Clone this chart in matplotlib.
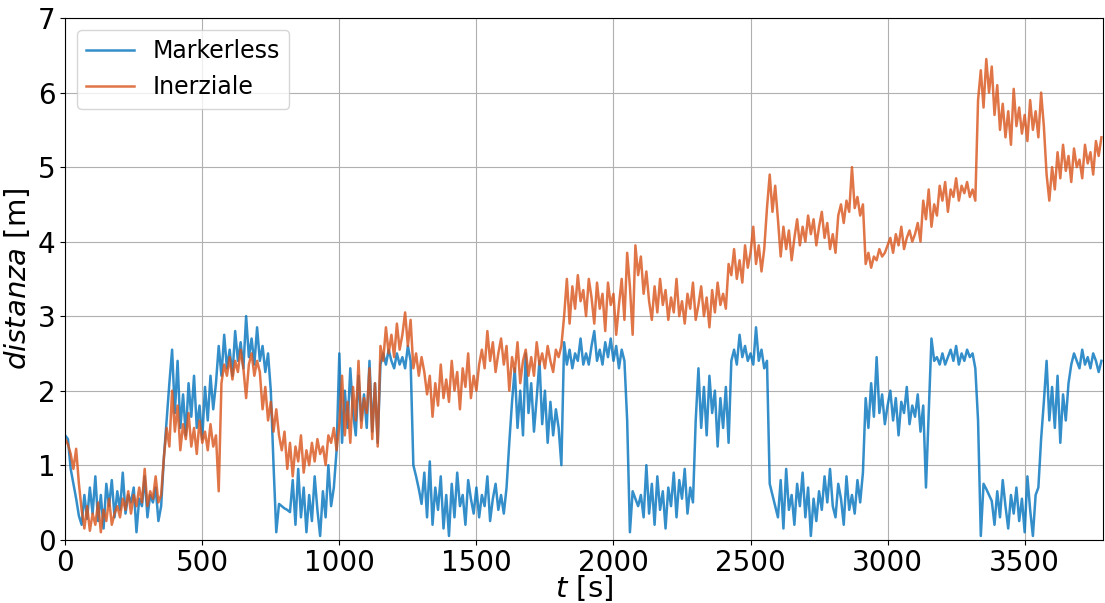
import numpy as np
import matplotlib.pyplot as plt

# sample times [s], one reading every 10 s
t = np.arange(0, 3790, 10)

markerless = [
    1.40, 1.35, 0.95, 0.75, 0.55, 0.32, 0.20, 0.60, 0.28, 0.70,
    0.35, 0.85, 0.25, 0.60, 0.15, 0.75, 0.45, 0.80, 0.30, 0.65,
    0.40, 0.90, 0.35, 0.60, 0.50, 0.70, 0.10, 0.55, 0.45, 0.85,
    0.30, 0.60, 0.50, 0.70, 0.25, 0.45, 1.10, 1.60, 2.10, 2.55,
    1.70, 2.40, 1.50, 1.95, 1.40, 2.10, 1.65, 2.20, 1.50, 1.80,
    1.35, 2.05, 1.60, 2.20, 1.75, 2.10, 2.60, 2.20, 2.75, 2.30,
    2.55, 2.20, 2.80, 2.40, 2.65, 2.30, 3.00, 2.45, 2.70, 2.35,
    2.85, 2.40, 2.60, 2.25, 2.50, 2.00, 1.00, 0.10, 0.48, 0.45,
    0.42, 0.40, 0.37, 0.80, 0.20, 0.95, 0.30, 0.70, 0.10, 0.60,
    0.25, 0.85, 0.40, 0.05, 0.65, 0.30, 1.00, 0.45, 0.70, 1.20,
    2.50, 1.30, 2.00, 1.50, 2.30, 1.70, 1.40, 2.20, 1.60, 1.95,
    1.50, 2.40, 1.45, 2.10, 1.30, 2.35, 2.50, 2.35, 2.55, 2.40,
    2.30, 2.50, 2.35, 2.45, 2.30, 2.60, 2.40, 1.00, 0.85, 0.68,
    0.48, 0.90, 0.30, 1.05, 0.20, 0.70, 0.40, 0.85, 0.15, 0.60,
    0.05, 0.75, 0.30, 0.90, 0.45, 0.60, 0.20, 0.80, 0.55, 0.35,
    0.70, 0.30, 0.60, 0.45, 0.85, 0.25, 0.55, 0.75, 0.40, 0.60,
    0.35, 0.70, 1.30, 1.85, 2.30, 1.50, 2.00, 1.40, 2.50, 1.70,
    2.10, 1.45, 1.90, 2.40, 1.55, 2.00, 1.30, 1.85, 1.40, 1.75,
    1.50, 1.00, 2.65, 2.35, 2.55, 2.30, 2.50, 2.40, 2.70, 2.35,
    2.50, 2.35, 2.60, 2.80, 2.40, 2.55, 2.35, 2.65, 2.45, 2.70,
    2.40, 2.60, 2.30, 2.55, 2.40, 1.60, 0.10, 0.65, 0.55, 0.45,
    0.60, 0.30, 1.00, 0.35, 0.75, 0.20, 0.85, 0.40, 0.65, 0.15,
    0.70, 0.45, 0.90, 0.30, 0.80, 0.55, 0.95, 0.35, 0.70, 0.50,
    1.60, 2.30, 1.50, 2.05, 1.40, 2.20, 1.70, 2.00, 1.25, 1.90,
    1.50, 2.05, 1.30, 2.40, 2.55, 2.35, 2.75, 2.45, 2.60, 2.40,
    2.50, 2.35, 2.85, 2.40, 2.55, 2.30, 2.40, 0.75, 0.60, 0.45,
    0.30, 0.80, 0.15, 0.95, 0.40, 0.60, 0.20, 0.75, 0.45, 0.90,
    0.30, 0.70, 0.05, 0.55, 0.25, 0.65, 0.40, 0.85, 0.50, 0.95,
    0.45, 0.30, 0.75, 0.55, 0.20, 0.85, 0.40, 0.60, 0.35, 0.80,
    0.50, 0.90, 1.90, 1.50, 2.10, 1.65, 2.45, 1.70, 1.95, 1.55,
    1.80, 2.00, 1.60, 1.90, 1.40, 1.85, 1.70, 2.05, 1.55, 1.80,
    1.65, 1.95, 1.45, 1.80, 0.70, 1.70, 2.70, 2.40, 2.45, 2.35,
    2.50, 2.35, 2.45, 2.55, 2.40, 2.60, 2.35, 2.50, 2.40, 2.55,
    2.45, 2.50, 2.30, 1.60, 0.05, 0.75, 0.68, 0.60, 0.52, 0.20,
    0.65, 0.30, 0.80, 0.45, 0.15, 0.60, 0.35, 0.70, 0.25, 0.55,
    0.10, 0.85, 0.40, 0.05, 0.60, 0.70, 1.35, 1.85, 2.40, 1.60,
    2.05, 1.50, 2.20, 1.30, 1.95, 1.60, 2.10, 2.35, 2.50, 2.40,
    2.30, 2.55, 2.35, 2.45, 2.30, 2.50, 2.40, 2.25, 2.40,
]

inerziale = [
    1.35, 1.28, 1.15, 0.95, 1.22, 0.75, 0.40, 0.15, 0.45, 0.12,
    0.35, 0.20, 0.50, 0.10, 0.40, 0.25, 0.55, 0.20, 0.35, 0.45,
    0.30, 0.55, 0.40, 0.65, 0.35, 0.60, 0.45, 0.70, 0.50, 0.95,
    0.45, 0.65, 0.55, 0.85, 0.50, 0.60, 1.10, 1.50, 1.25, 2.00,
    1.45, 1.80, 1.20, 1.55, 1.35, 1.70, 1.25, 1.50, 1.15, 1.60,
    1.30, 1.45, 1.20, 1.55, 1.25, 1.40, 0.65, 2.10, 2.35, 2.20,
    2.45, 2.15, 2.40, 2.25, 2.55, 2.30, 1.90, 2.35, 2.50, 2.20,
    2.40, 2.25, 1.75, 2.05, 1.60, 1.85, 1.45, 1.75, 1.40, 1.20,
    1.45, 0.95, 1.30, 0.85, 1.25, 1.05, 1.40, 0.90, 1.20, 1.00,
    1.30, 1.05, 1.35, 1.15, 1.25, 1.00, 1.40, 1.30, 1.50, 1.20,
    1.55, 2.20, 1.40, 1.85, 1.30, 2.05, 1.60, 2.40, 1.50, 1.90,
    1.70, 2.30, 1.35, 2.10, 1.25, 2.60, 2.40, 2.85, 2.50, 2.75,
    2.45, 2.90, 2.55, 2.75, 3.05, 2.60, 2.95, 2.30, 2.50, 2.20,
    2.45, 2.25, 1.95, 2.20, 1.65, 2.10, 1.80, 2.35, 1.90, 2.15,
    1.85, 2.40, 2.00, 2.25, 1.75, 2.30, 2.05, 2.50, 1.90, 2.20,
    2.00, 2.35, 2.55, 2.30, 2.80, 2.40, 2.65, 2.25, 2.50, 2.70,
    2.35, 2.60, 2.00, 2.45, 2.25, 2.65, 2.10, 2.40, 2.55, 2.20,
    2.45, 2.20, 2.65, 2.35, 2.50, 2.30, 2.60, 2.40, 2.25, 2.55,
    2.45, 2.60, 3.00, 3.50, 2.90, 3.40, 3.10, 3.55, 3.20, 3.35,
    3.00, 3.50, 3.25, 2.90, 3.45, 3.10, 3.30, 2.80, 3.45, 3.15,
    3.30, 2.75, 3.15, 3.50, 2.95, 3.85, 3.40, 2.75, 3.95, 3.55,
    3.80, 3.30, 3.60, 3.20, 2.95, 3.40, 3.05, 3.50, 3.15, 3.35,
    2.95, 3.25, 3.05, 3.50, 3.00, 3.20, 2.90, 3.30, 3.10, 3.45,
    2.95, 3.15, 3.40, 3.00, 3.25, 2.85, 3.35, 3.05, 3.45, 3.15,
    3.30, 3.10, 3.70, 3.55, 3.90, 3.50, 3.75, 3.45, 3.95, 3.65,
    3.85, 4.20, 3.70, 3.95, 3.60, 3.90, 4.45, 4.90, 4.40, 4.75,
    4.30, 3.80, 4.20, 3.90, 4.15, 3.75, 4.05, 4.30, 3.95, 4.20,
    4.00, 4.35, 4.10, 4.30, 3.95, 4.20, 4.40, 4.05, 4.25, 3.90,
    4.10, 3.85, 4.35, 4.50, 4.25, 4.55, 4.40, 5.00, 4.45, 4.60,
    4.35, 4.50, 3.70, 3.85, 3.65, 3.80, 3.75, 3.90, 3.80, 3.85,
    3.95, 4.05, 3.85, 4.10, 3.95, 4.20, 3.90, 4.05, 4.15, 4.00,
    4.10, 4.25, 4.00, 4.55, 4.30, 4.70, 4.20, 4.50, 4.35, 4.75,
    4.55, 4.80, 4.40, 4.70, 4.60, 4.85, 4.55, 4.75, 4.65, 4.80,
    4.60, 4.70, 4.55, 5.90, 6.30, 5.80, 6.45, 6.00, 6.35, 5.70,
    6.10, 5.50, 5.85, 5.40, 5.75, 5.30, 6.05, 5.55, 5.80, 5.45,
    5.70, 5.35, 5.90, 5.50, 5.75, 5.40, 6.00, 5.55, 4.90, 4.55,
    5.00, 4.70, 5.20, 4.85, 5.30, 4.95, 5.15, 4.80, 5.25, 5.00,
    5.10, 4.85, 5.30, 5.05, 5.20, 4.90, 5.35, 5.15, 5.40,
]

fig = plt.figure(figsize=(11.05, 6.03), dpi=100)
ax = fig.add_axes([0.059, 0.105, 0.939, 0.865])

ax.plot(t, markerless, color='#0072bd', alpha=0.8, lw=1.8, label='Markerless')
ax.plot(t, inerziale, color='#d95319', alpha=0.8, lw=1.8, label='Inerziale')

ax.set_xlim(0, 3785)
ax.set_ylim(0, 7)
ax.set_xticks(range(0, 3501, 500))
ax.set_yticks(range(0, 8))
ax.tick_params(labelsize=20)
ax.grid(True, color='#b0b0b0', lw=0.8)
ax.set_xlabel('$t$ [s]', fontsize=21, labelpad=-3)
ax.set_ylabel('$distanza$ [m]', fontsize=21)
ax.legend(loc='upper left', fontsize=17)

fig.savefig('out.png')
